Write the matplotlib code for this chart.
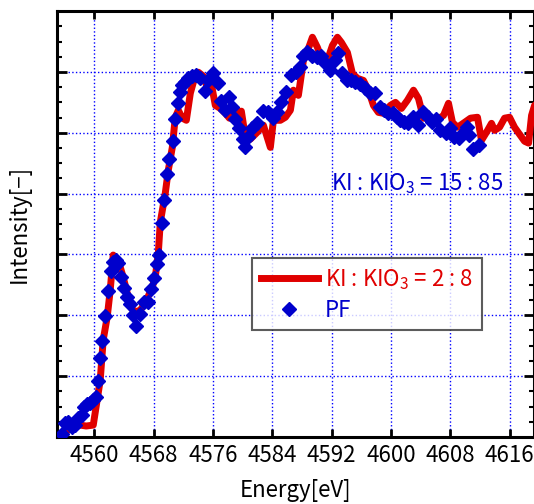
import matplotlib.pyplot as plt
import numpy as np
from matplotlib.ticker import MultipleLocator, NullFormatter

plt.rcParams['font.family'] = ['Noto Sans CJK JP', 'DejaVu Sans']
plt.rcParams['mathtext.default'] = 'regular'

# KI : KIO3 = 2 : 8 reference spectrum (red line)
ref_energy = [4555.41, 4556.49, 4558.11, 4558.92, 4559.87, 4560.40, 4560.81, 4561.21,
              4561.75, 4562.16, 4562.56, 4563.24, 4563.91, 4564.45, 4564.99, 4565.53,
              4566.21, 4566.88, 4567.83, 4568.23, 4568.64, 4568.91, 4569.58, 4569.99,
              4570.53, 4570.93, 4571.34, 4571.88, 4572.42, 4572.96, 4573.63, 4574.04,
              4574.71, 4575.25, 4575.65, 4576.33, 4577.00, 4577.68, 4578.22, 4579.03,
              4579.84, 4580.24, 4581.05, 4582.00, 4582.81, 4583.75, 4584.16, 4585.10,
              4585.78, 4586.45, 4586.86, 4587.53, 4588.21, 4588.88, 4589.42, 4590.09,
              4590.77, 4591.44, 4592.12, 4592.79, 4593.33, 4594.14, 4594.82, 4595.49,
              4596.30, 4596.97, 4597.65, 4598.32, 4599.00, 4599.94, 4600.62, 4601.43,
              4602.24, 4603.05, 4603.72, 4604.40, 4605.34, 4606.29, 4607.10, 4607.77,
              4608.31, 4608.98, 4609.93, 4610.74, 4611.68, 4612.22, 4612.90, 4613.57,
              4613.98, 4614.65, 4615.33, 4616.00, 4616.68, 4617.35, 4618.03, 4618.57,
              4618.97, 4619.38, 4620.00]
ref_intensity = [0.000, 0.023, 0.039, 0.036, 0.039, 0.122, 0.187, 0.319,
                 0.394, 0.483, 0.598, 0.581, 0.525, 0.473, 0.424, 0.411,
                 0.417, 0.440, 0.493, 0.525, 0.604, 0.706, 0.801, 0.877,
                 0.952, 1.051, 1.074, 1.048, 1.041, 1.130, 1.189, 1.199,
                 1.186, 1.149, 1.179, 1.090, 1.080, 1.064, 1.048, 1.067,
                 1.071, 1.008, 0.979, 1.002, 1.025, 0.952, 1.041, 1.041,
                 1.051, 1.074, 1.140, 1.123, 1.238, 1.277, 1.314, 1.281,
                 1.238, 1.238, 1.287, 1.314, 1.297, 1.264, 1.195, 1.179,
                 1.172, 1.140, 1.090, 1.067, 1.064, 1.090, 1.100, 1.080,
                 1.107, 1.140, 1.113, 1.048, 1.048, 1.044, 1.057, 1.097,
                 1.034, 1.018, 1.034, 1.048, 1.051, 0.975, 1.002, 1.031,
                 1.008, 1.018, 1.048, 1.051, 1.018, 0.995, 0.972, 0.966,
                 1.057, 1.090, 1.100]

# PF measurement (blue diamonds)
pf_energy = [4555.68, 4556.09, 4556.49, 4557.03, 4557.44, 4557.84, 4558.38, 4558.65,
             4559.06, 4559.46, 4559.87, 4560.27, 4560.54, 4560.81, 4561.08, 4561.48,
             4561.89, 4562.29, 4562.56, 4562.97, 4563.24, 4563.64, 4564.05, 4564.45,
             4564.86, 4565.26, 4565.67, 4566.21, 4566.75, 4567.29, 4567.69, 4568.10,
             4568.50, 4568.77, 4569.18, 4569.45, 4569.85, 4570.12, 4570.66, 4570.93,
             4571.34, 4571.61, 4571.88, 4572.28, 4572.69, 4573.23, 4573.77, 4574.30,
             4574.98, 4575.38, 4576.06, 4576.73, 4577.14, 4577.68, 4578.22, 4578.62,
             4579.03, 4579.57, 4580.11, 4580.38, 4580.78, 4581.32, 4582.00, 4582.81,
             4583.48, 4584.16, 4584.70, 4585.24, 4585.91, 4586.58, 4587.26, 4587.80,
             4588.21, 4588.74, 4589.42, 4590.09, 4590.63, 4591.17, 4591.85, 4592.52,
             4592.93, 4593.47, 4594.14, 4594.68, 4595.22, 4595.89, 4596.57, 4597.24,
             4597.92, 4598.59, 4599.13, 4599.67, 4600.35, 4600.89, 4601.29, 4601.83,
             4602.37, 4603.05, 4603.72, 4604.40, 4604.94, 4605.48, 4606.02, 4606.69,
             4607.37, 4608.04, 4608.58, 4609.12, 4609.66, 4610.20, 4610.60, 4611.14,
             4611.82]
pf_intensity = [0.010, 0.046, 0.049, 0.033, 0.039, 0.062, 0.072, 0.099,
                0.108, 0.112, 0.122, 0.131, 0.184, 0.259, 0.315, 0.397,
                0.479, 0.545, 0.575, 0.581, 0.571, 0.525, 0.489, 0.460,
                0.437, 0.401, 0.365, 0.404, 0.443, 0.443, 0.486, 0.522,
                0.568, 0.598, 0.703, 0.778, 0.864, 0.913, 0.972, 1.044,
                1.097, 1.133, 1.156, 1.166, 1.179, 1.186, 1.189, 1.179,
                1.136, 1.172, 1.195, 1.163, 1.103, 1.074, 1.117, 1.084,
                1.044, 1.015, 0.979, 0.952, 0.985, 1.015, 1.031, 1.071,
                1.067, 1.048, 1.067, 1.100, 1.133, 1.189, 1.199, 1.215,
                1.251, 1.264, 1.251, 1.248, 1.251, 1.228, 1.205, 1.238,
                1.261, 1.195, 1.172, 1.172, 1.166, 1.159, 1.146, 1.130,
                1.130, 1.084, 1.074, 1.064, 1.064, 1.051, 1.041, 1.034,
                1.031, 1.051, 1.025, 1.067, 1.051, 1.034, 1.044, 1.008,
                0.998, 1.015, 0.985, 0.982, 0.998, 1.018, 0.992, 0.946,
                0.959]

x_ticks = [4560, 4568, 4576, 4584, 4592, 4600, 4608, 4616]

fig = plt.figure(figsize=(5.34, 5.04), dpi=100)
ax = fig.add_axes([0.107, 0.133, 0.893, 0.845])

ax.plot(ref_energy, ref_intensity, color='#E00000', linewidth=5,
        label='KI : KIO$_3$ = 2 : 8', zorder=3)
ax.plot(pf_energy, pf_intensity, linestyle='none', marker='D', markersize=7,
        color='#0000CC', label='PF', zorder=4)

ax.set_xlim(4555, 4619.3)
ax.set_ylim(0, 1.4)
ax.set_xticks(x_ticks)
ax.yaxis.set_major_locator(MultipleLocator(0.2))
ax.yaxis.set_minor_locator(MultipleLocator(0.05))
ax.yaxis.set_major_formatter(NullFormatter())

ax.grid(True, which='major', color='#0000FF', linestyle=':', linewidth=1.0)
ax.set_axisbelow(True)

ax.tick_params(axis='both', which='major', direction='in', length=6, width=2,
               top=True, right=True, labelsize=16, pad=5)
ax.tick_params(axis='y', which='minor', direction='in', length=3.5, width=1.5,
               right=True)
ax.tick_params(axis='y', which='major', length=7)
for s in ax.spines.values():
    s.set_linewidth(2.2)

ax.set_xlabel('Energy[eV]', fontsize=16, labelpad=9)
ax.set_ylabel('Intensity[−]', fontsize=16, labelpad=14)

ax.text(4591.9, 0.81, 'KI : KIO$_3$ = 15 : 85', color='#0000CC', fontsize=16)

leg = ax.legend(loc='upper left', bbox_to_anchor=(0.408, 0.42), fontsize=16,
                frameon=True, fancybox=False, edgecolor='#333333',
                handlelength=2.6, borderpad=0.4, labelspacing=0.3,
                handletextpad=0.3, borderaxespad=0)
leg.get_frame().set_linewidth(1.5)
for txt, c in zip(leg.get_texts(), ['#E00000', '#0000CC']):
    txt.set_color(c)

fig.savefig('out.png', dpi=100)
